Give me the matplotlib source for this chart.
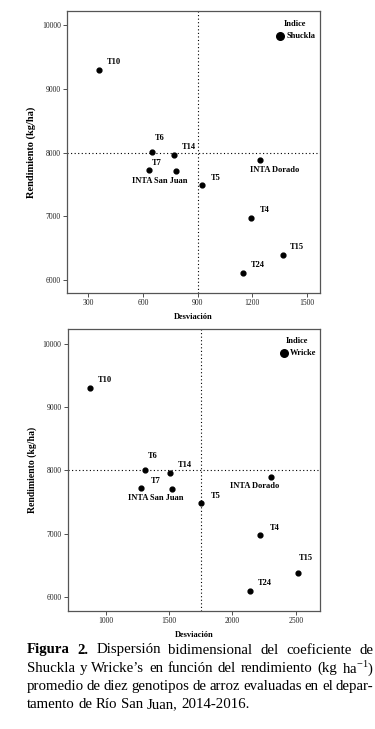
import matplotlib
matplotlib.use("Agg")
import matplotlib.pyplot as plt

plt.rcParams["font.family"] = ["Liberation Serif", "DejaVu Serif"]
plt.rcParams["mathtext.fontset"] = "custom"
plt.rcParams["mathtext.rm"] = "Liberation Serif"

# data
genotypes = ["T10", "T6", "T14", "T7", "INTA San Juan", "T5", "INTA Dorado", "T4", "T15", "T24"]
rendimiento = [9295, 8003, 7961, 7719, 7714, 7488, 7890, 6977, 6384, 6100]
shukla = [359, 650, 771, 632, 780, 923, 1243, 1194, 1368, 1150]
wricke = [876, 1308, 1504, 1277, 1519, 1751, 2302, 2215, 2516, 2139]

mean_rend = 8000
mean_shukla = 900
mean_wricke = 1750

shukla_ticks = [300, 600, 900, 1200, 1500]
wricke_ticks = [1000, 1500, 2000, 2500]
rend_ticks = [6000, 7000, 8000, 9000, 10000]

# label offsets in pixels (dx, dy, ha)
off_top = {"T10": (8, 8, "left"), "T6": (3, 14, "left"), "T14": (8, 8, "left"),
           "T7": (3, 7, "left"), "INTA San Juan": (-16, -10, "center"),
           "T5": (9, 7, "left"), "INTA Dorado": (15, -10, "center"),
           "T4": (9, 8, "left"), "T15": (7, 8, "left"), "T24": (8, 8, "left")}
off_bot = {"T10": (8, 8, "left"), "T6": (3, 14, "left"), "T14": (8, 8, "left"),
           "T7": (10, 7, "left"), "INTA San Juan": (-16, -9, "center"),
           "T5": (10, 7, "left"), "INTA Dorado": (-16, -9, "center"),
           "T4": (10, 7, "left"), "T15": (1, 15, "left"), "T24": (8, 8, "left")}

fig = plt.figure(figsize=(3.75, 7.29), dpi=100)


def panel(rect, xs, xlim, ylim, xticks, xmean, offsets, index_name, leg_pos, ylab_size):
    ax = fig.add_axes(rect)
    ax.scatter(xs, rendimiento, s=12, color="black", zorder=3)
    ax.axvline(xmean, color="black", lw=0.8, ls=(0, (1, 2.2)))
    ax.axhline(mean_rend, color="black", lw=0.8, ls=(0, (1, 2.2)))
    for g, x, y in zip(genotypes, xs, rendimiento):
        dx, dy, ha = offsets[g]
        ax.annotate(g, (x, y), xytext=(dx, dy), textcoords="offset pixels",
                    ha=ha, va="center", fontsize=6, fontweight="bold")
    ax.set_xlim(*xlim)
    ax.set_ylim(*ylim)
    ax.set_xticks(xticks)
    ax.set_yticks(rend_ticks)
    for sp in ax.spines.values():
        sp.set_color("#555555")
        sp.set_linewidth(0.9)
    ax.tick_params(direction="out", length=3, width=0.6, labelsize=5.5,
                   pad=1.5, color="#333333", labelcolor="#222222")
    ax.set_xlabel("Desviación", fontsize=6, fontweight="bold", labelpad=4)
    ax.set_ylabel("Rendimiento (kg/ha)", fontsize=ylab_size, fontweight="bold", labelpad=4)
    mx, my, tx, ty = leg_pos
    ax.scatter([mx], [my], s=30, color="black", transform=ax.transAxes, clip_on=False)
    ax.text(tx, ty, "Indice", transform=ax.transAxes, ha="center", va="center",
            fontsize=6, fontweight="bold")
    ax.text(mx + 0.025, my, index_name, transform=ax.transAxes, ha="left", va="center",
            fontsize=6, fontweight="bold")
    return ax


panel([0.1787, 0.5981, 0.6747, 0.3868], shukla, (183, 1573), (5791, 10225),
      shukla_ticks, mean_shukla, off_top, "Shuckla", (0.842, 0.911, 0.901, 0.954), 7.5)
panel([0.1805, 0.1619, 0.6728, 0.3868], wricke, (697, 2692), (5784, 10232),
      wricke_ticks, mean_wricke, off_bot, "Wricke", (0.857, 0.915, 0.910, 0.956), 7)

# caption, justified lines
caption = [
    ([("Figura", "bold"), ("2.", "bold"), ("Dispersión", "normal"), ("bidimensional", "normal"),
      ("del", "normal"), ("coeficiente", "normal"), ("de", "normal")], True),
    ([(w, "normal") for w in "Shuckla y Wricke’s en función del rendimiento (kg".split()]
     + [("ha$^{\\mathregular{-1}}$)", "normal")], True),
    ([(w, "normal") for w in "promedio de diez genotipos de arroz evaluadas en el depar-".split()], True),
    ([(w, "normal") for w in "tamento de Río San Juan, 2014-2016.".split()], False),
]
cap_size = 10.7
x0, x1 = 26.7, 373.5
line_y = [650, 668.3, 686.6, 705]
W, H = 375, 729
renderer = fig.canvas.get_renderer()
space = fig.text(0, 0, " ", fontsize=cap_size)
space_w = space.get_window_extent(renderer).width
space.remove()
for (words, justify), yc in zip(caption, line_y):
    texts = [fig.text(0, 1 - yc / H, w, fontsize=cap_size, fontweight=fw, va="center", ha="left")
             for w, fw in words]
    widths = [t.get_window_extent(renderer).width for t in texts]
    if justify:
        gap = (x1 - x0 - sum(widths)) / (len(texts) - 1)
    else:
        gap = space_w
    x = x0
    for t, w in zip(texts, widths):
        t.set_x(x / W)
        x += w + gap

fig.savefig("out.png", dpi=100)
